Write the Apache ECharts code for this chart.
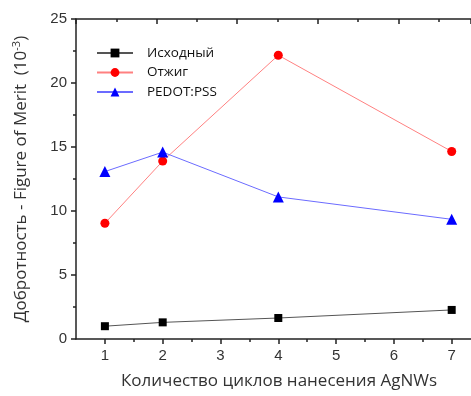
<!DOCTYPE html>
<html><head><meta charset="utf-8">
<script src="https://cdn.jsdelivr.net/npm/echarts@6/dist/echarts.min.js"></script>
<style>html,body{margin:0;padding:0;background:#fff}#c{width:471px;height:396px}</style>
</head><body><div id="c"></div>
<script>
const cycles = [1, 2, 4, 7];
const seriesNames = ['Исходный', 'Отжиг', 'PEDOT:PSS'];
const initial = [1.0, 1.3, 1.64, 2.27];
const annealed = [9.04, 13.9, 22.17, 14.65];
const pedot = [13.08, 14.6, 11.1, 9.35];
const xTickLabels = [1, 2, 3, 4, 5, 6, 7];
const xMinorTicks = [1.5, 2.5, 3.5, 4.5, 5.5, 6.5];

const chart = echarts.init(document.getElementById('c'));
const pair = arr => cycles.map((c, i) => [c, arr[i]]);
const labelFont = 'Liberation Sans';
const titleFont = 'Open Sans';
const axisCol = '#222';
chart.setOption({
  animation: false,
  grid: {left: 76, top: 19, right: 0, bottom: 57},
  legend: {
    orient: 'vertical', left: 96, top: 46, padding: 0, itemWidth: 36, itemHeight: 11, itemGap: 5.5,
    textStyle: {fontFamily: titleFont, fontSize: 13.5, color: '#111', padding: [0,0,0,9]},
    data: seriesNames
  },
  xAxis: [
    {type: 'value', min: 0.5, max: 7.334, position: 'bottom',
     axisLine: {lineStyle: {color: axisCol, width: 1.5}},
     axisTick: {customValues: xTickLabels, length: 5, lineStyle: {color: axisCol, width: 1.5}},
     axisLabel: {customValues: xTickLabels, fontFamily: labelFont, fontSize: 15, color: '#333', margin: 9},
     splitLine: {show: false},
     name: 'Количество циклов нанесения AgNWs', nameLocation: 'middle', nameGap: 34,
     nameTextStyle: {fontFamily: titleFont, fontSize: 17, color: '#333', padding: [0,0,0,11]}},
    {type: 'value', min: 0.5, max: 7.334, position: 'bottom',
     axisLine: {show: false},
     axisTick: {customValues: xMinorTicks, length: 3, lineStyle: {color: axisCol, width: 1.5}},
     axisLabel: {show: false}, splitLine: {show: false}},
    {type: 'value', min: 0, max: 9.8, interval: 2, position: 'top',
     axisLine: {lineStyle: {color: axisCol, width: 1.5}},
     axisTick: {inside: true, length: 5, lineStyle: {color: axisCol, width: 1.5}},
     minorTick: {show: true, splitNumber: 2, length: 3, lineStyle: {color: axisCol, width: 1.5}},
     axisLabel: {show: false}, splitLine: {show: false}}
  ],
  yAxis: {
    type: 'value', min: 0, max: 25, interval: 5,
    axisLine: {show: true, lineStyle: {color: axisCol, width: 1.5}},
    axisTick: {show: true, length: 5, lineStyle: {color: axisCol, width: 1.5}},
    minorTick: {show: true, splitNumber: 2, length: 3, lineStyle: {color: axisCol, width: 1.5}},
    axisLabel: {fontFamily: labelFont, fontSize: 15, color: '#333', margin: 9},
    splitLine: {show: false},
    name: '{a|Добротность - Figure of Merit  (10}{s|-3}{a|)}', nameLocation: 'middle', nameGap: 45,
    nameTextStyle: {rich: {
      a: {fontFamily: titleFont, fontSize: 17, color: '#333'},
      s: {fontFamily: titleFont, fontSize: 11, color: '#333', verticalAlign: 'top', padding: [0,0,9,0]}
    }}
  },
  series: [
    {name: seriesNames[0], type: 'line', data: pair(initial), symbol: 'rect', symbolSize: 8,
     itemStyle: {color: '#000'}, lineStyle: {color: '#555', width: 1}},
    {name: seriesNames[1], type: 'line', data: pair(annealed), symbol: 'circle', symbolSize: 9,
     itemStyle: {color: '#ff0000'}, lineStyle: {color: '#ff8080', width: 1}},
    {name: seriesNames[2], type: 'line', data: pair(pedot), symbol: 'triangle', symbolSize: 11,
     itemStyle: {color: '#0000ff'}, lineStyle: {color: '#6b6bff', width: 1}}
  ]
});
</script></body></html>
